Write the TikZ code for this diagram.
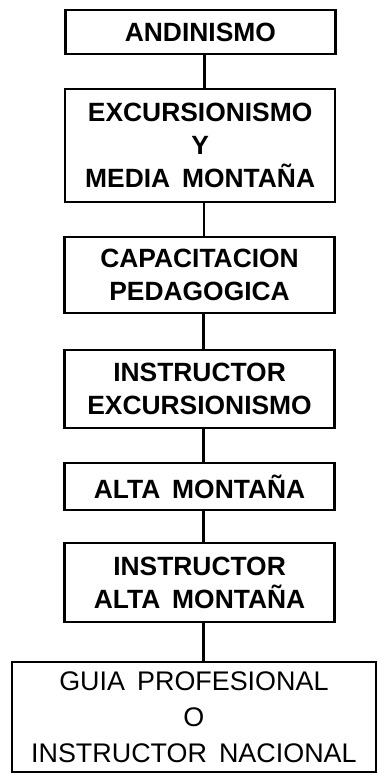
\documentclass[tikz,border=0pt]{standalone}
\usepackage{fontspec}
\setmainfont{Liberation Sans}
\usepackage{tikz}
\usetikzlibrary{positioning,calc}
\newcommand{\wsp}{\hspace{0.45em}}

\begin{document}
\begin{tikzpicture}[
  bx/.style={draw=black,line width=2.4pt,align=center,inner sep=0pt,
             minimum width=9.52cm,font=\fontsize{26.5}{33}\selectfont\bfseries},
  big/.style={draw=black,line width=2.2pt,align=center,inner sep=0pt,
              minimum width=12.84cm,font=\fontsize{27}{36}\selectfont},
  ln/.style={line width=2.8pt,black}]
\useasboundingbox (0,0) rectangle (13.335,-27.305);
% ---------------- boxes
\node[bx,minimum height=1.55cm] (b1) at (7.07,-1.13) {ANDINISMO};
\node[bx,minimum height=3.99cm] (b2) at (7.06,-5.13)
  {EXCURSIONISMO\\Y\\MEDIA\wsp MONTAÑA};
\node[bx,minimum height=2.68cm] (b3) at (7.04,-9.70) {CAPACITACION\\PEDAGOGICA};
\node[bx,minimum height=2.75cm] (b4) at (7.04,-13.72) {INSTRUCTOR\\EXCURSIONISMO};
\node[bx,minimum height=1.66cm] (b5) at (7.04,-17.16) {ALTA\wsp MONTAÑA};
\node[bx,minimum height=2.79cm] (b6) at (7.04,-20.55) {INSTRUCTOR\\ALTA\wsp MONTAÑA};
\node[big,minimum height=3.88cm] (b7) at (6.84,-25.29)
  {GUIA\wsp PROFESIONAL\\O\\INSTRUCTOR\wsp NACIONAL};
% ---------------- links
\foreach \x/\y in {b1/b2,b2/b3,b3/b4,b4/b5,b5/b6,b6/b7}
  \draw[ln] ([xshift=0.14cm]\x.south) -- ([xshift=0.14cm]\x.south |- \y.north);
\end{tikzpicture}
\end{document}
